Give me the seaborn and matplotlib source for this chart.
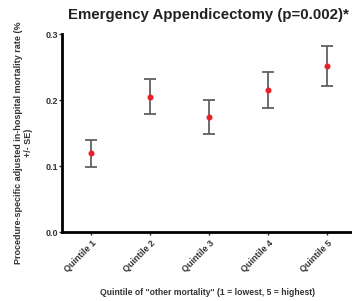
import numpy as np
import pandas as pd
import seaborn as sns
import matplotlib
matplotlib.use('Agg')
import matplotlib.pyplot as plt

quintiles = ['Quintile 1', 'Quintile 2', 'Quintile 3', 'Quintile 4', 'Quintile 5']
rate = [0.119, 0.205, 0.174, 0.215, 0.252]
lower = [0.099, 0.179, 0.148, 0.188, 0.221]
upper = [0.139, 0.232, 0.200, 0.243, 0.282]

df = pd.DataFrame({'quintile': quintiles, 'rate': rate})

sns.set_style('ticks')
plt.rcParams['font.family'] = ['Liberation Sans', 'DejaVu Sans']

fig = plt.figure(figsize=(3.52, 3.01), dpi=100)
ax = fig.add_axes([62 / 352, 1 - 232 / 301, 290 / 352, 198 / 301])

pos = np.arange(len(quintiles))
ax.errorbar(pos, rate,
            yerr=[np.array(rate) - np.array(lower), np.array(upper) - np.array(rate)],
            fmt='none', ecolor='#606060', elinewidth=1.3, capsize=4, capthick=1.3, zorder=2)
sns.pointplot(data=df, x='quintile', y='rate', linestyle='none', color='#e8202a',
              markers='o', markersize=2.3, errorbar=None, ax=ax, zorder=3)

ax.set_xlim(-0.5, 4.42)
ax.set_ylim(0, 0.3)
ax.set_yticks([0.0, 0.1, 0.2, 0.3])
ax.set_yticklabels(['0.0', '0.1', '0.2', '0.3'], fontsize=6.5, fontweight='bold', color='#333333')
ax.set_xticks(pos)
ax.set_xticklabels(quintiles, rotation=45, ha='right', rotation_mode='anchor',
                   fontsize=6.5, fontweight='bold', color='#333333')
ax.tick_params(axis='y', length=2, width=1, pad=1)
ax.tick_params(axis='x', length=2, width=1, pad=3)

for s in ['left', 'bottom']:
    ax.spines[s].set_linewidth(2)
    ax.spines[s].set_color('black')
for s in ['right', 'top']:
    ax.spines[s].set_visible(False)

ax.set_xlabel('Quintile of "other mortality" (1 = lowest, 5 = highest)',
              fontsize=6.2, fontweight='bold', color='#333333', labelpad=10)
ax.set_ylabel('Procedure-specific adjusted in-hospital mortality rate (%\n+/- SE)',
              fontsize=6.5, fontweight='bold', color='#333333', labelpad=5)
ax.yaxis.set_label_coords(-0.1, 0.45)
fig.text(0.593, 0.95, 'Emergency Appendicectomy (p=0.002)*', ha='center', va='center',
         fontsize=10.8, fontweight='bold', color='#222222')

fig.savefig('out.png', dpi=100)
